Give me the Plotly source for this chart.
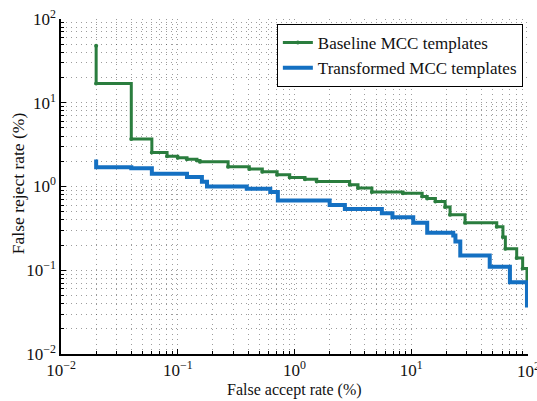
import plotly.graph_objects as go

# Baseline MCC templates (FAR %, FRR %) step points
base_far = [0.02, 0.02, 0.04, 0.06, 0.081, 0.1, 0.12, 0.146, 0.155, 0.27, 0.41, 0.53,
            0.71, 0.91, 1.23, 1.55, 2.97, 3.5, 4.6, 8.5, 12.4, 13.7, 16.1, 19.5, 21.5,
            28.9, 54, 61, 64, 80, 90, 98, 98]
base_frr = [48, 17, 3.7, 2.55, 2.3, 2.2, 2.12, 2.05, 1.97, 1.72, 1.62, 1.5,
            1.38, 1.28, 1.22, 1.15, 1.05, 0.96, 0.86, 0.83, 0.76, 0.72, 0.66, 0.57, 0.46,
            0.37, 0.33, 0.25, 0.18, 0.14, 0.105, 0.07, 0.065]

# Transformed MCC templates
trans_far = [0.02, 0.02, 0.04, 0.06, 0.12, 0.161, 0.178, 0.39, 0.62, 0.72, 2.0, 2.7,
             5.6, 6.9, 10.4, 13.7, 22.9, 23.9, 26.3, 47, 70, 98, 98]
trans_frr = [2.1, 1.7, 1.65, 1.42, 1.3, 1.14, 1.0, 0.94, 0.86, 0.68, 0.6, 0.54,
             0.48, 0.43, 0.37, 0.28, 0.26, 0.22, 0.15, 0.11, 0.072, 0.036, 0.036]

tick_vals = [0.01, 0.1, 1, 10, 100]
tick_text = ["10<sup>−2</sup>", "10<sup>−1</sup>", "10<sup>0</sup>", "10<sup>1</sup>", "10<sup>2</sup>"]
minor_vals = [m * 10.0 ** e for e in range(-2, 2) for m in range(2, 10)]

green = "#2a7d3e"
blue = "#1470c2"
grid_col = "rgba(60,60,60,0.5)"
FONT = "Liberation Serif"

fig = go.Figure()
fig.add_trace(go.Scatter(x=base_far, y=base_frr, mode="lines+markers", line_shape="hv",
                         name="Baseline MCC templates",
                         line=dict(color=green, width=3),
                         marker=dict(color=green, size=4)))
fig.add_trace(go.Scatter(x=trans_far, y=trans_frr, mode="lines", line_shape="hv",
                         name="Transformed MCC templates",
                         line=dict(color=blue, width=4)))

axis_common = dict(
    type="log", range=[-2, 2], automargin=False,
    showline=True, linecolor="black", linewidth=1.5,
    ticks="inside", ticklen=5, tickcolor="black",
    showgrid=True, gridcolor=grid_col, griddash="1px,4px", gridwidth=1,
    zeroline=False, mirror=False,
    tickvals=tick_vals, ticktext=tick_text,
    minor=dict(tickvals=minor_vals, ticks="inside", ticklen=3, tickcolor="black",
               showgrid=True, gridcolor=grid_col, griddash="1px,4px", gridwidth=1),
    tickfont=dict(family=FONT, size=17, color="#111"),
)

fig.update_xaxes(**axis_common)
fig.update_yaxes(**axis_common)

fig.update_layout(
    width=537, height=401,
    margin=dict(l=61, r=9, t=19, b=47),
    paper_bgcolor="white", plot_bgcolor="white",
    font=dict(family=FONT, size=16, color="#111"),
    showlegend=True,
    legend=dict(x=0.989, y=0.985, xanchor="right", yanchor="top",
                bgcolor="white", bordercolor="black", borderwidth=1,
                font=dict(family=FONT, size=17, color="#111"),
                tracegroupgap=0, itemwidth=30),
    annotations=[
        dict(text="False accept rate (%)", xref="paper", yref="paper",
             x=0.5, y=0.0, yshift=-47, xanchor="center", yanchor="bottom",
             showarrow=False, font=dict(family=FONT, size=16, color="#111")),
        dict(text="False reject rate (%)", xref="paper", yref="paper",
             x=0, xshift=-31, y=0.51, xanchor="right", yanchor="middle", textangle=-90,
             showarrow=False, font=dict(family=FONT, size=17.5, color="#111")),
        dict(text="10<sup>2</sup>", xref="x", yref="paper", x=2, y=0.0, yshift=-3,
             xanchor="center", yanchor="top", showarrow=False,
             font=dict(family=FONT, size=17, color="#111")),
    ],
)

fig.write_html("out.html", config={"displayModeBar": False},
               post_script="document.body.style.margin='0';document.body.style.overflow='hidden';")
